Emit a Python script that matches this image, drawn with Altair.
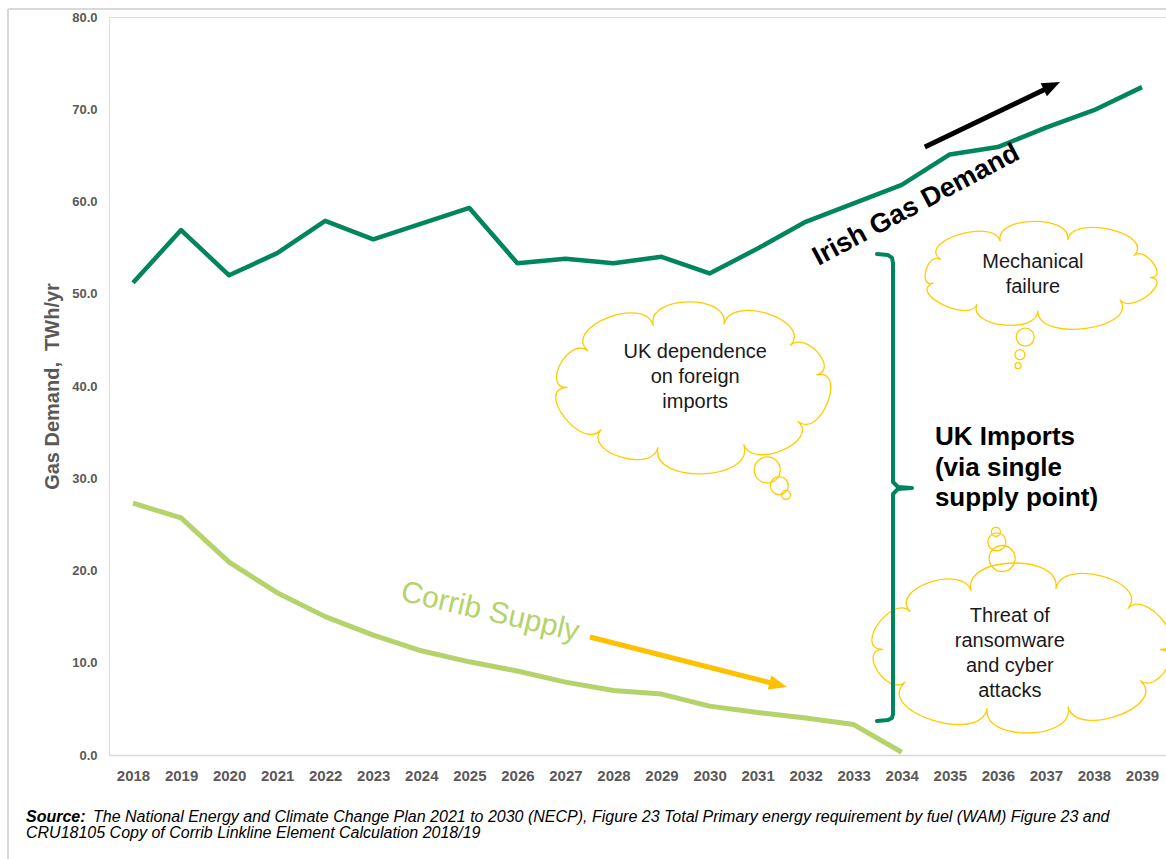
import math
import altair as alt
import pandas as pd

# ---------------- data ----------------
years = list(range(2018, 2040))
irish_demand = [51.2, 56.9, 52.0, 54.4, 57.9, 55.9, 57.6, 59.3, 53.3, 53.8, 53.3,
                54.0, 52.2, 54.9, 57.8, 59.8, 61.8, 65.1, 65.9, 68.0, 69.9, 72.4]
corrib_years = list(range(2018, 2035))
corrib_supply = [27.3, 25.7, 20.9, 17.6, 15.0, 13.0, 11.3, 10.1, 9.1, 7.9, 7.0,
                 6.6, 5.3, 4.6, 4.0, 3.3, 0.3]
y_ticks = [0, 10, 20, 30, 40, 50, 60, 70, 80]

# annotation anchors (data units: year, TWh/yr)
cloud_labels = ["UK dependence\non foreign\nimports", "Mechanical\nfailure",
                "Threat of\nransomware\nand cyber\nattacks"]
cloud_cx = [2029.66, 2036.90, 2036.50]
cloud_cy = [39.8, 52.0, 11.6]
cloud_w = [275, 232, 300]
cloud_h = [172, 108, 170]
cloud_tx = [2029.70, 2036.73, 2036.25]
cloud_ty = [43.04, 52.79, 14.42]

bubble_x = [2031.20, 2031.45, 2031.59, 2036.57, 2036.46, 2036.42, 2036.09, 2035.98, 2035.96]
bubble_y = [30.9, 29.2, 28.2, 45.3, 43.4, 42.2, 21.3, 23.1, 24.2]
bubble_d = [26, 18, 9, 18, 10, 6, 26, 18, 9]

brace_x = [2033.485, 2033.714, 2033.797, 2033.818, 2033.818, 2033.922, 2034.213,
           2033.922, 2033.818, 2033.818, 2033.797, 2033.714, 2033.485]
brace_y = [54.31, 54.20, 53.88, 53.33, 29.59, 29.05, 28.94, 28.84, 28.29, 4.44,
           4.01, 3.79, 3.69]

black_arrow_x = [2034.48, 2037.125]
black_arrow_y = [65.9, 72.53]
gold_arrow_x = [2027.51, 2031.43]
gold_arrow_y = [12.79, 7.61]

DARK = "#00855F"
LIGHT = "#B4D36B"
GOLD = "#FFC000"
CLOUD = "#FFCC00"
GREY = "#595959"
FONT = "Liberation Sans"


def cloud_path(w, h, weights, k=0.55):
    n = len(weights)
    tot = sum(weights)
    angs = []
    a = -math.pi / 2 + 0.25
    for wt in weights:
        angs.append(a)
        a += 2 * math.pi * wt / tot
    ax, ay = 1.0, h / w
    pts = [(ax * math.cos(t), ay * math.sin(t)) for t in angs]
    nrm = []
    for t in angs:
        nx, ny = math.cos(t) / ax, math.sin(t) / ay
        L = math.hypot(nx, ny)
        nrm.append((nx / L, ny / L))
    segs = []
    for i in range(n):
        p0 = pts[i]
        p3 = pts[(i + 1) % n]
        L = math.hypot(p3[0] - p0[0], p3[1] - p0[1])
        n0 = nrm[i]
        n3 = nrm[(i + 1) % n]
        c1 = (p0[0] + k * L * n0[0], p0[1] + k * L * n0[1])
        c2 = (p3[0] + k * L * n3[0], p3[1] + k * L * n3[1])
        segs.append((p0, c1, c2, p3))
    xs, ys = [], []
    for p0, c1, c2, p3 in segs:
        for j in range(41):
            t = j / 40
            u = 1 - t
            xs.append(u**3 * p0[0] + 3 * u * u * t * c1[0] + 3 * u * t * t * c2[0] + t**3 * p3[0])
            ys.append(u**3 * p0[1] + 3 * u * u * t * c1[1] + 3 * u * t * t * c2[1] + t**3 * p3[1])
    cx = (max(xs) + min(xs)) / 2
    cy = (max(ys) + min(ys)) / 2
    sx = 2 / (max(xs) - min(xs))
    sy = 2 * (h / w) / (max(ys) - min(ys))

    def tr(p):
        return "%.4f %.4f" % ((p[0] - cx) * sx, (p[1] - cy) * sy)

    d = "M " + tr(segs[0][0])
    for p0, c1, c2, p3 in segs:
        d += " C " + tr(c1) + " " + tr(c2) + " " + tr(p3)
    return d + " Z"


bump_sets = [
    [1.0, 0.8, 1.2, 0.9, 1.1, 0.85, 1.15, 0.95, 1.05, 0.9],
    [1.1, 0.9, 1.0, 1.2, 0.85, 1.05, 0.95, 1.1, 0.9],
    [1.0, 1.15, 0.85, 1.1, 0.95, 1.2, 0.9, 1.05, 0.9, 1.0],
]

# ---------------- encodings ----------------
X = alt.X("x:Q",
          scale=alt.Scale(domain=[2017.5, 2039.5], nice=False, zero=False),
          axis=alt.Axis(values=years, format="d", title=None, grid=False, ticks=False,
                        labelFontSize=15, labelFontWeight="bold", labelColor=GREY,
                        labelFont=FONT, domainColor="#D9D9D9", domainWidth=1.5,
                        labelPadding=13, labelFlush=False))
Y = alt.Y("y:Q",
          scale=alt.Scale(domain=[0, 80], nice=False, zero=True),
          axis=alt.Axis(values=y_ticks, format=".1f", title="Gas Demand,\u00a0 TWh/yr",
                        grid=False, ticks=False, domain=False,
                        labelFontSize=13, labelFontWeight="bold", labelColor=GREY,
                        labelFont=FONT, labelPadding=12,
                        titleFontSize=20, titleFontWeight="bold", titleColor=GREY,
                        titleFont=FONT, titleX=-57, titleY=369, titleAngle=270,
                        titleAlign="center", titleBaseline="middle"))

one = pd.DataFrame({"a": [0]})

layers = []

# chart frame (top & left edges)
layers.append(alt.Chart(one).mark_rule(color="#D9D9D9", strokeWidth=2).encode(
    x=alt.value(-101), x2=alt.value(1057), y=alt.value(-8)))
layers.append(alt.Chart(one).mark_rule(color="#D9D9D9", strokeWidth=2).encode(
    x=alt.value(-101), y=alt.value(-8), y2=alt.value(842)))

# series
demand_df = pd.DataFrame({"x": years, "y": irish_demand})
corrib_df = pd.DataFrame({"x": corrib_years, "y": corrib_supply})
layers.append(alt.Chart(demand_df).mark_line(color=DARK, strokeWidth=4.5,
                                             strokeJoin="round").encode(x=X, y=Y))
layers.append(alt.Chart(corrib_df).mark_line(color=LIGHT, strokeWidth=5,
                                             strokeJoin="round").encode(x=X, y=Y))

# clouds
for i in range(3):
    cdf = pd.DataFrame({"x": [cloud_cx[i]], "y": [cloud_cy[i]]})
    layers.append(alt.Chart(cdf).mark_point(
        shape=cloud_path(cloud_w[i], cloud_h[i], bump_sets[i]),
        size=cloud_w[i] ** 2, filled=False, color=CLOUD, strokeWidth=1.3,
        opacity=1).encode(x=X, y=Y))

bub_df = pd.DataFrame({"x": bubble_x, "y": bubble_y, "s": [d * d for d in bubble_d]})
layers.append(alt.Chart(bub_df).mark_point(shape="circle", filled=False, color=CLOUD,
                                           strokeWidth=1.3, opacity=1).encode(
    x=X, y=Y, size=alt.Size("s:Q", scale=None, legend=None)))

ct_df = pd.DataFrame({"x": cloud_tx, "y": cloud_ty, "t": cloud_labels})
layers.append(alt.Chart(ct_df).mark_text(font=FONT, fontSize=20, color="#1A1A1A",
                                         align="center", baseline="alphabetic",
                                         lineBreak="\n", lineHeight=25).encode(
    x=X, y=Y, text="t:N"))

# brace
brace_df = pd.DataFrame({"x": brace_x, "y": brace_y, "i": list(range(len(brace_x)))})
layers.append(alt.Chart(brace_df).mark_line(color=DARK, strokeWidth=4, strokeJoin="round",
                                            strokeCap="round").encode(
    x=X, y=Y, order=alt.Order("i:Q")))

# arrows
head_path = "M 1 0 L -1 -0.8 L -1 0.8 Z"
ba_df = pd.DataFrame({"x": black_arrow_x, "y": black_arrow_y})
layers.append(alt.Chart(ba_df).mark_line(color="black", strokeWidth=5).encode(x=X, y=Y))
layers.append(alt.Chart(ba_df.tail(1)).mark_point(shape=head_path, size=324, filled=True,
                                                  color="black", opacity=1,
                                                  angle=334.3).encode(x=X, y=Y))
ga_df = pd.DataFrame({"x": gold_arrow_x, "y": gold_arrow_y})
layers.append(alt.Chart(ga_df).mark_line(color=GOLD, strokeWidth=5).encode(x=X, y=Y))
layers.append(alt.Chart(ga_df.tail(1)).mark_point(shape=head_path, size=324, filled=True,
                                                  color=GOLD, opacity=1,
                                                  angle=14.2).encode(x=X, y=Y))

# labels
layers.append(alt.Chart(pd.DataFrame({"x": [2034.30], "y": [59.62], "t": ["Irish Gas Demand"]}))
              .mark_text(font=FONT, fontSize=27, fontWeight="bold", color="black",
                         angle=332, align="center", baseline="middle")
              .encode(x=X, y=Y, text="t:N"))
layers.append(alt.Chart(pd.DataFrame({"x": [2025.43], "y": [15.5], "t": ["Corrib Supply"]}))
              .mark_text(font=FONT, fontSize=30, color=LIGHT,
                         angle=13, align="center", baseline="middle")
              .encode(x=X, y=Y, text="t:N"))
layers.append(alt.Chart(pd.DataFrame({"x": [2034.69], "y": [33.6],
                                      "t": ["UK Imports\n(via single\nsupply point)"]}))
              .mark_text(font=FONT, fontSize=26, fontWeight="bold", color="black",
                         align="left", baseline="alphabetic", lineBreak="\n",
                         lineHeight=30.5)
              .encode(x=X, y=Y, text="t:N"))

# source note
layers.append(alt.Chart(one).mark_text(font=FONT, fontSize=16, fontWeight="bold",
                                       fontStyle="italic", color="black", align="left",
                                       baseline="alphabetic", text="Source:")
              .encode(x=alt.value(-83), y=alt.value(805)))
layers.append(alt.Chart(one).mark_text(
    font=FONT, fontSize=16, fontStyle="italic", color="black", align="left",
    baseline="alphabetic",
    text="The National Energy and Climate Change Plan 2021 to 2030 (NECP), Figure 23 Total "
         "Primary energy requirement by fuel (WAM) Figure 23 and")
    .encode(x=alt.value(-16), y=alt.value(805)))
layers.append(alt.Chart(one).mark_text(
    font=FONT, fontSize=16, fontStyle="italic", color="black", align="left",
    baseline="alphabetic",
    text="CRU18105 Copy of Corrib Linkline Element Calculation 2018/19")
    .encode(x=alt.value(-83), y=alt.value(821)))

chart = alt.layer(*layers).properties(
    width=1057, height=738,
    autosize=alt.AutoSizeParams(type="none"),
    padding={"left": 109, "top": 17, "right": 0, "bottom": 104},
    background="white",
).configure_view(stroke=None).configure(font=FONT)

chart.save("out.html", embed_options={"renderer": "svg", "actions": False})
